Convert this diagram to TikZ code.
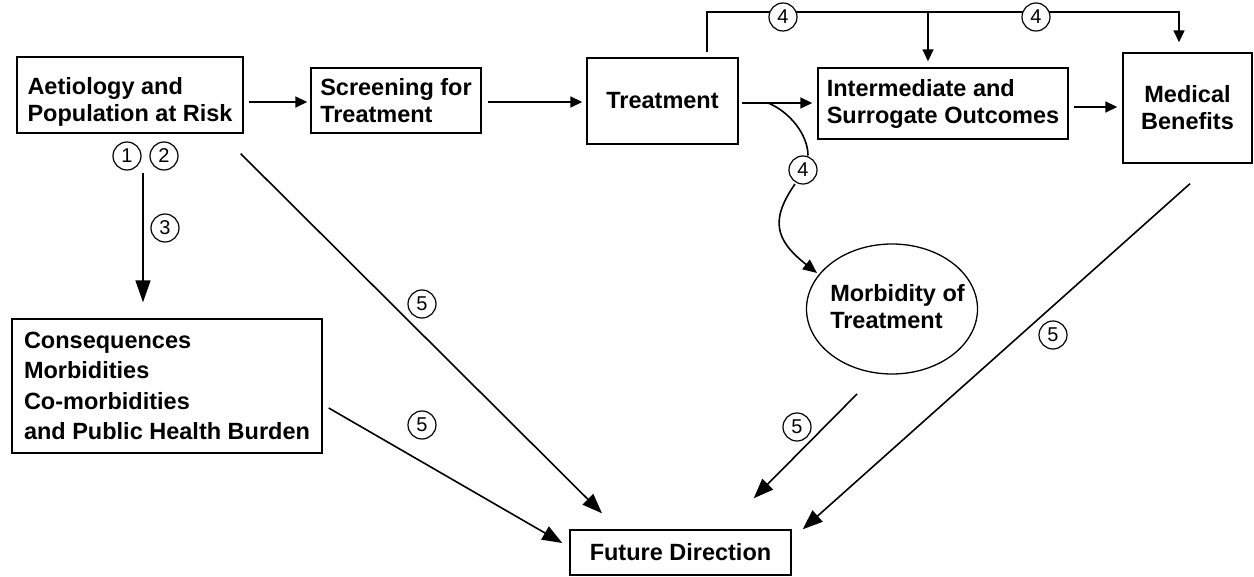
\documentclass[tikz,border=0pt]{standalone}
\usepackage{fontspec}
\setmainfont{Liberation Sans}
\usetikzlibrary{arrows.meta,shapes.geometric,backgrounds}
\begin{document}
\begin{tikzpicture}[x=1pt,y=-1pt,
  boxfont/.style={font=\bfseries\fontsize{23.5}{27}\selectfont},
  box/.style={draw, line width=1.4pt, rectangle, inner xsep=0pt, inner ysep=2pt, align=left, boxfont},
  cnum/.style={draw, circle, line width=1.2pt, fill=white, minimum size=28pt, inner sep=0pt, font=\fontsize{20}{20}\selectfont},
  conn/.style={line width=1.6pt},
  arr/.style={conn, -{Triangle[length=12pt,width=11pt]}},
  bigarr/.style={conn, -{Triangle[length=20pt,width=15pt]}},
  midarr/.style={conn, -{Triangle[length=14pt,width=12pt]}},
  longarr/.style={conn, -{Triangle[length=22pt,width=15pt]}},
]
\useasboundingbox (0,0) rectangle (1254,577);

% boxes
\node[box, minimum width=226pt, minimum height=76pt] (A) at (130,95) {\rule{0pt}{31pt}Aetiology and\\Population at Risk};
\node[box, minimum width=170pt, minimum height=65pt] (S) at (396,100.5) {Screening for\\Treatment};
\node[box, minimum width=151pt, minimum height=86pt] (T) at (662.5,101) {Treatment};
\node[box, minimum width=250pt, minimum height=71pt] (I) at (943,103.5) {Intermediate and\\Surrogate Outcomes};
\node[box, minimum width=129pt, minimum height=110pt, align=center] (M) at (1187.5,108) {Medical\\Benefits};
\node[draw, ellipse, line width=1.3pt, minimum width=171pt, minimum height=130pt, inner sep=0pt] (Mo) at (892,309) {};
\node[boxfont, align=left, inner sep=0pt] (MoT) at (897.5,306.5) {Morbidity of\\Treatment};
\node[box, minimum width=310pt, minimum height=134pt, font=\bfseries\fontsize{23.5}{30.3}\selectfont] (C) at (167,386) {Consequences\\Morbidities\\Co-morbidities\\and Public Health Burden};
\node[box, minimum width=221pt, minimum height=45pt] (F) at (680.5,552.5) {Future Direction};

% circled numbers
\node[cnum] (n1) at (127,156) {1};
\node[cnum] (n2) at (164,156) {2};
\node[cnum] (n3) at (165,228) {3};
\node[cnum] (n4a) at (783,17) {4};
\node[cnum] (n4b) at (1036,17) {4};
\node[cnum] (n4c) at (803,170) {4};
\node[cnum] (n5a) at (422,304) {5};
\node[cnum] (n5b) at (422,425) {5};
\node[cnum] (n5c) at (797,427) {5};
\node[cnum] (n5d) at (1053,335) {5};

\begin{pgfonlayer}{background}
% main chain
\draw[arr] ([shift={(5,7)}]A.east) -- ([shift={(-3,1.5)}]S.west);
\draw[arr] ([shift={(6,1.5)}]S.east) -- ([shift={(-4,1)}]T.west);
\draw[arr] ([shift={(3,2)}]T.east) -- coordinate[pos=0.375] (cs) ([shift={(-5,-0.5)}]I.west);
\draw[arr] ([shift={(5,3.5)}]I.east) -- ([shift={(-5,-1)}]M.west);
% top bracket
\draw[arr] ([shift={(44.5,-5)}]T.north) -- ([shift={(44.5,-45)}]T.north) coordinate (tl) -| ([shift={(-8.5,-10)}]M.north);
\draw[arr] ([shift={(-15,-55)}]I.north) -- ([shift={(-15,-6)}]I.north);
% vertical 3
\draw[longarr] ([shift={(13,39)}]A.south) -- ([shift={(-24,-16)}]C.north);
% curve to morbidity
\draw[conn] (cs) .. controls (790,112) and (808,135) .. ([shift={(5,-14.5)}]n4c.center);
\draw[midarr] ([shift={(-8,14)}]n4c.center) .. controls (770,220) and (775,240) .. ([shift={(-75,-36)}]Mo.center);
% to future direction
\draw[bigarr] ([shift={(-3,20)}]A.south east) -- ([shift={(-78.5,-16)}]F.north);
\draw[bigarr] ([shift={(6,22)}]C.east) -- ([shift={(-7,-9.5)}]F.west);
\draw[bigarr] ([shift={(-35,85)}]Mo.center) -- ([shift={(-38,-31)}]F.north east);
\draw[bigarr] ([shift={(2.5,20)}]M.south) -- ([shift={(11,0)}]F.north east);
\end{pgfonlayer}
\end{tikzpicture}
\end{document}
